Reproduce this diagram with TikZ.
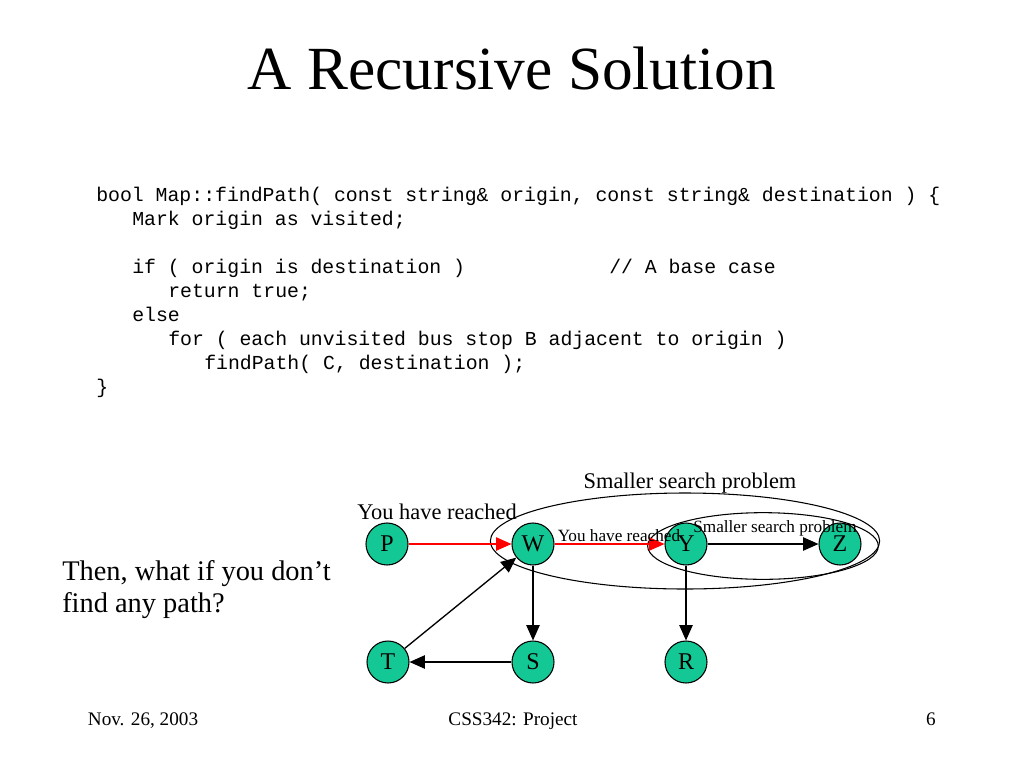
\documentclass[tikz,border=0pt]{standalone}
\usepackage{fontspec}
\setmainfont{Liberation Serif}
\setmonofont{Liberation Mono}
\usetikzlibrary{arrows.meta,shapes.geometric,positioning}
\definecolor{stopgreen}{RGB}{20,200,150}
\tikzset{
stop/.style={circle, draw, line width=0.8pt, fill=stopgreen, minimum size=31.5pt, inner sep=0pt, font=\fontsize{18}{18}\selectfont}, % bus stops
link/.style={-{Triangle[length=11.5pt,width=10pt]}, line width=1pt},
redlink/.style={link, draw=red, line width=0.8pt},
region/.style={ellipse, draw, inner sep=0pt, line width=0.8pt},
code/.style={anchor=base west, inner sep=0pt, font=\ttfamily\fontsize{14.86}{16}\selectfont},
label/.style={anchor=base, inner sep=0pt, font=\fontsize{16.8}{18}\selectfont},
small/.style={anchor=base, inner sep=0pt, font=\fontsize{12.9}{14}\selectfont}
}

\begin{document}
\begin{tikzpicture}[x=0.75pt,y=-0.75pt]
    \useasboundingbox (0,0) rectangle (1024,768);
    % title
    \node[anchor=base, inner sep=0pt, font=\fontsize{46}{48}\selectfont] (title) at (512,89) {A Recursive Solution};
    % pseudo code
    \node[code] (l1) at (96,201) {bool Map::findPath( const string\& origin, const string\& destination ) \{};
    \node[code] (l2) at (132,225) {Mark origin as visited;};
    \node[code] (l3) at (132,273) {if ( origin is destination )};
    \node[code] (l3c) at (609,273) {// A base case};
    \node[code] (l4) at (168,297) {return true;};
    \node[code] (l5) at (132,321) {else};
    \node[code] (l6) at (168,345) {for ( each unvisited bus stop B adjacent to origin )};
    \node[code] (l7) at (204,369) {findPath( C, destination );};
    \node[code] (l8) at (96,393) {\}};
    % question
    \node[anchor=base west, inner sep=0pt, font=\fontsize{21.3}{24}\selectfont] (ask) at (62,580) {Then, what if you don’t};
    \node[anchor=base west, inner sep=0pt, font=\fontsize{21.3}{24}\selectfont] (ask2) at (62,612) {find any path?};
    % search regions
    \node[region, minimum width=292pt, minimum height=72pt] (outer) at (685,541) {};
    \node[region, minimum width=173pt, minimum height=50pt] (inner) at (763,546) {};
    % bus stops
    \node[stop] (P) at (387,544) {P};
    \node[stop] (W) at (533,544) {W};
    \node[stop] (Y) at (686,544) {Y};
    \node[stop] (Z) at (840,544) {Z};
    \node[stop] (T) at (388,662) {T};
    \node[stop] (S) at (533,662) {S};
    \node[stop] (R) at (686,662) {R};
    % routes
    \draw[redlink] (P) -- (W);
    \draw[redlink] (W) -- (Y);
    \draw[link] (Y) -- (Z);
    \draw[link] (W) -- (S);
    \draw[link] (Y) -- (R);
    \draw[link] (S) -- (T);
    \draw[link] (T) -- (W);
    % labels
    \node[label] (reach) at (437,519) {You have reached};
    \node[label] (smaller) at (690,488) {Smaller search problem};
    \node[small] (reach2) at (619,541) {You have reached};
    \node[small] (smaller2) at (775,532) {Smaller search problem};
    % footer
    \node[anchor=base, inner sep=0pt, font=\fontsize{14.4}{16}\selectfont] (date) at (143,725) {Nov. 26, 2003};
    \node[anchor=base, inner sep=0pt, font=\fontsize{14.4}{16}\selectfont] (course) at (513,725) {CSS342: Project};
    \node[anchor=base, inner sep=0pt, font=\fontsize{14.4}{16}\selectfont] (page) at (931,725) {6};
\end{tikzpicture}
\end{document}
